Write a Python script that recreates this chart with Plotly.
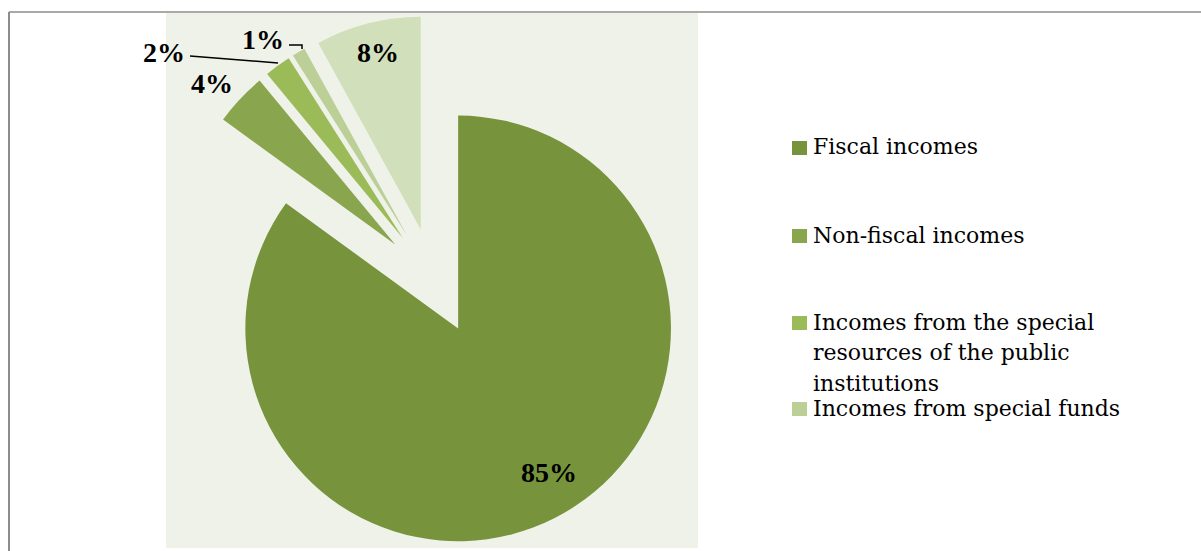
import plotly.graph_objects as go

# ---- data ----
categories = [
    "Fiscal incomes",
    "Non-fiscal incomes",
    "Incomes from the special resources of the public institutions",
    "Incomes from special funds",
    "Other incomes",
]
shares = [85, 4, 2, 1, 8]
share_labels = ["85%", "4%", "2%", "1%", "8%"]
legend_labels = [
    ["Fiscal incomes"],
    ["Non-fiscal incomes"],
    ["Incomes from the special", "resources of the public", "institutions"],
    ["Incomes from special funds"],
]

colors = ["#77933C", "#89A54E", "#9BBB59", "#BBCF96", "#D1DFBB"]

W, H = 1201, 551


def px(x):
    return x / W


def py(y):
    return 1 - y / H


fig = go.Figure()
fig.add_trace(go.Pie(
    labels=categories,
    values=shares,
    sort=False,
    direction="clockwise",
    rotation=0,
    pull=[0.25] * len(shares),
    marker=dict(colors=colors, line=dict(width=0)),
    textinfo="none",
    hoverinfo="label+percent",
    showlegend=False,
    domain=dict(x=[px(168), px(700)], y=[py(547), py(15)]),
))

shapes = []
# plot area background
shapes.append(dict(type="rect", xref="paper", yref="paper", layer="below",
                   x0=px(166), x1=px(698), y0=py(548), y1=py(13),
                   fillcolor="#EFF2E9", line=dict(width=0)))
# chart border
shapes.append(dict(type="line", xref="paper", yref="paper",
                   x0=px(9), x1=px(1201), y0=py(12), y1=py(12),
                   line=dict(color="#8C8C8C", width=1.5)))
shapes.append(dict(type="line", xref="paper", yref="paper",
                   x0=px(9), x1=px(9), y0=py(12), y1=py(551),
                   line=dict(color="#8C8C8C", width=2)))
# leader lines
shapes.append(dict(type="path", xref="paper", yref="paper",
                   path=f"M {px(190)} {py(56)} L {px(278)} {py(63)}",
                   line=dict(color="black", width=1.5)))
shapes.append(dict(type="path", xref="paper", yref="paper",
                   path=f"M {px(289)} {py(45)} L {px(302)} {py(45)} L {px(302)} {py(49)}",
                   line=dict(color="black", width=1.5)))

annotations = []
label_pos = [(549, 472), (212, 83), (164, 52), (263, 39), (378, 53)]
for txt, (x, y) in zip(share_labels, label_pos):
    annotations.append(dict(text=f"<b>{txt}</b>", x=px(x), y=py(y), xref="paper", yref="paper",
                            showarrow=False, xanchor="center", yanchor="middle",
                            font=dict(family="Liberation Serif", size=28, color="black")))

# legend (four visible items)
leg_first_y = [147, 235, 322, 408]
line_step = 30.5
for lines, ty, col in zip(legend_labels, leg_first_y, colors[:4]):
    for k, line in enumerate(lines):
        annotations.append(dict(text=line, x=px(811), y=py(ty + k * line_step),
                                xref="paper", yref="paper",
                                showarrow=False, xanchor="left", yanchor="middle", align="left",
                                font=dict(family="DejaVu Serif", size=22, color="black")))
    shapes.append(dict(type="rect", xref="paper", yref="paper",
                       x0=px(792), x1=px(807), y0=py(ty + 8), y1=py(ty - 6),
                       fillcolor=col, line=dict(width=0)))

fig.update_layout(
    width=W, height=H,
    margin=dict(l=0, r=0, t=0, b=0),
    paper_bgcolor="white",
    plot_bgcolor="white",
    shapes=shapes,
    annotations=annotations,
)

fig.write_html("out.html")
